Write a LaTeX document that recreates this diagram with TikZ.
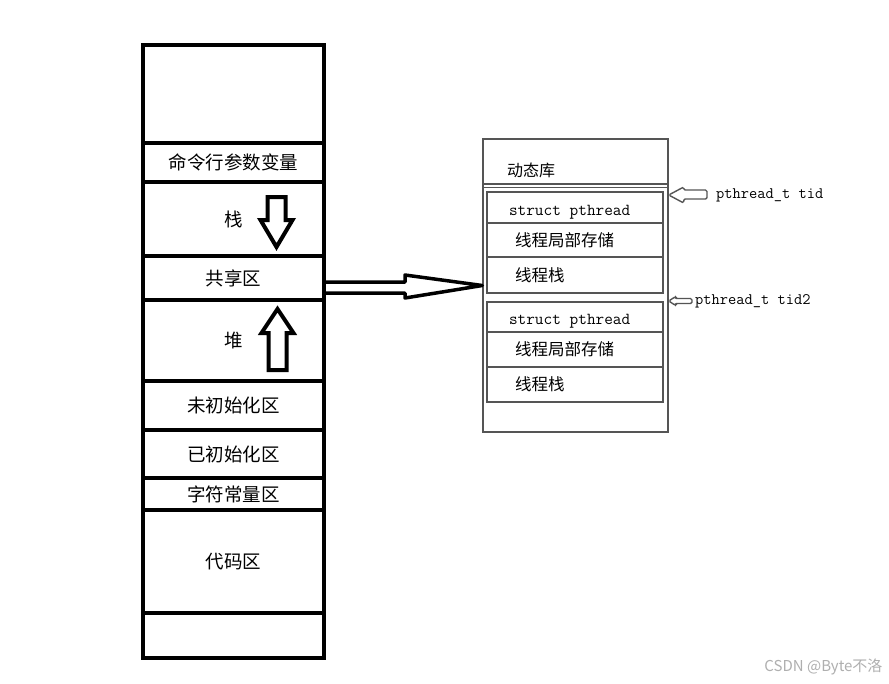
\documentclass[tikz,border=0pt]{standalone}
\usepackage{fontspec}
\usetikzlibrary{positioning,calc}
\newfontfamily\cjk{Noto Sans CJK SC}
\definecolor{sketchgray}{RGB}{85,85,85}
\definecolor{markgray}{RGB}{175,175,175}

\begin{document}
\begin{tikzpicture}[x=1pt,y=-1pt,
    seg/.style={draw,line width=4pt,minimum width=181pt,inner sep=0pt,
                outer sep=0pt,font=\cjk\fontsize{18.5}{20}\selectfont},
    hollow/.style={draw,line width=4pt,line join=miter},
    lib/.style={draw=sketchgray,line width=1.4pt},
    row/.style={draw=sketchgray,line width=1.4pt,minimum width=176pt,
                outer sep=0pt,inner ysep=0pt,align=left},
    srow/.style={row,text width=132pt,inner xsep=22pt,text depth=0pt,
                 font=\ttfamily\fontsize{16.8}{18}\selectfont},
    crow/.style={row,text width=120pt,inner xsep=28pt,
                 font=\cjk\fontsize{16.5}{18}\selectfont},
    ptr/.style={draw=sketchgray,line width=1.4pt,rounded corners=1.5pt},
    tidlabel/.style={font=\ttfamily\fontsize{16}{18}\selectfont,
                     anchor=west,inner sep=0pt},
  ]
    \fill[white] (0,0) rectangle (889,683);
    \useasboundingbox (0,0) rectangle (889,683);

    % process address space
    \node[seg,minimum height=98pt] (top) at (233.5,94) {};
    \node[seg,minimum height=39pt,below=0pt of top] (cmd) {命令行参数变量};
    \node[seg,minimum height=74pt,below=0pt of cmd] (stack) {栈};
    \node[seg,minimum height=44pt,below=0pt of stack] (share) {共享区};
    \node[seg,minimum height=81pt,below=0pt of share] (heap) {堆};
    \node[seg,minimum height=49pt,below=0pt of heap] (bss) {未初始化区};
    \node[seg,minimum height=48pt,below=0pt of bss] (data) {已初始化区};
    \node[seg,minimum height=32pt,below=0pt of data] (rodata) {字符常量区};
    \node[seg,minimum height=103pt,below=0pt of rodata] (code) {代码区};
    \node[seg,minimum height=45pt,below=0pt of code] (bottom) {};

    % growth directions
    \begin{scope}[shift={(stack.center)}]
      \draw[hollow] (34,-22) -- (52,-22) -- (52,1) -- (59,1) -- (43,28)
        -- (27,1) -- (34,1) -- cycle;
    \end{scope}
    \begin{scope}[shift={(heap.center)}]
      \draw[hollow] (35,29.5) -- (53,29.5) -- (53,-7.5) -- (60,-7.5)
        -- (44,-31.5) -- (28,-7.5) -- (35,-7.5) -- cycle;
    \end{scope}

    % dynamic library
    \node[lib,minimum width=185pt,minimum height=293pt,inner sep=0pt]
      (dylib) at (575.5,285.5) {};
    \node[font=\cjk\fontsize{16}{18}\selectfont] (dyname) at (531,170) {动态库};
    \coordinate (sep) at (0,184);
    \draw[lib] (dylib.west |- sep) -- (dylib.east |- sep);
    \draw[draw=sketchgray,line width=0.8pt] ($(dylib.west |- sep)+(0,3)$)
      -- ($(dylib.east |- sep)+(0,3)$);

    \node[srow,text height=16pt,minimum height=31pt] (st1) at (575,207.5)
      {struct\hspace{0.525em}pthread};
    \node[crow,minimum height=34pt,below=0pt of st1] (tls1) {线程局部存储};
    \node[crow,minimum height=36pt,below=0pt of tls1] (ts1) {线程栈};
    \node[srow,text height=15.5pt,minimum height=30pt] (st2) at (575,317)
      {struct\hspace{0.525em}pthread};
    \node[crow,minimum height=35pt,below=0pt of st2] (tls2) {线程局部存储};
    \node[crow,minimum height=35pt,below=0pt of tls2] (ts2) {线程栈};

    % mapping
    \draw[hollow,line width=3.5pt,line join=round]
      ($(share.east)+(0,4)$) -- ++(81,0) -- ++(0,-7) -- (dylib.west)
      -- ($(share.east)+(81,20)$) -- ++(0,-5) -- ($(share.east)+(0,15)$);

    % thread ids
    \node[tidlabel] (tid) at (716,195) {pthread\_t tid};
    \node[tidlabel] (tid2) at (695,301) {pthread\_t tid2};
    \draw[ptr] (dylib.east |- tid.west) -- ++(15,-8) -- ++(0,3)
      -- ($(tid.west)+(-9,-5)$) -- ++(0,9)
      -- ($(dylib.east |- tid.west)+(15,4)$) -- ++(0,4) -- cycle;
    \draw[ptr] (dylib.east |- tid2.west) -- ++(7,-4.5) -- ++(0,2)
      -- ($(tid2.west)+(-3,-2.5)$) -- ++(0,5)
      -- ($(dylib.east |- tid2.west)+(7,2.5)$) -- ++(0,2) -- cycle;

    \node[font=\cjk\fontsize{15}{16}\selectfont,text=markgray,anchor=east]
      (mark) at (886,667) {CSDN @Byte不洛};
  \end{tikzpicture}
\end{document}
